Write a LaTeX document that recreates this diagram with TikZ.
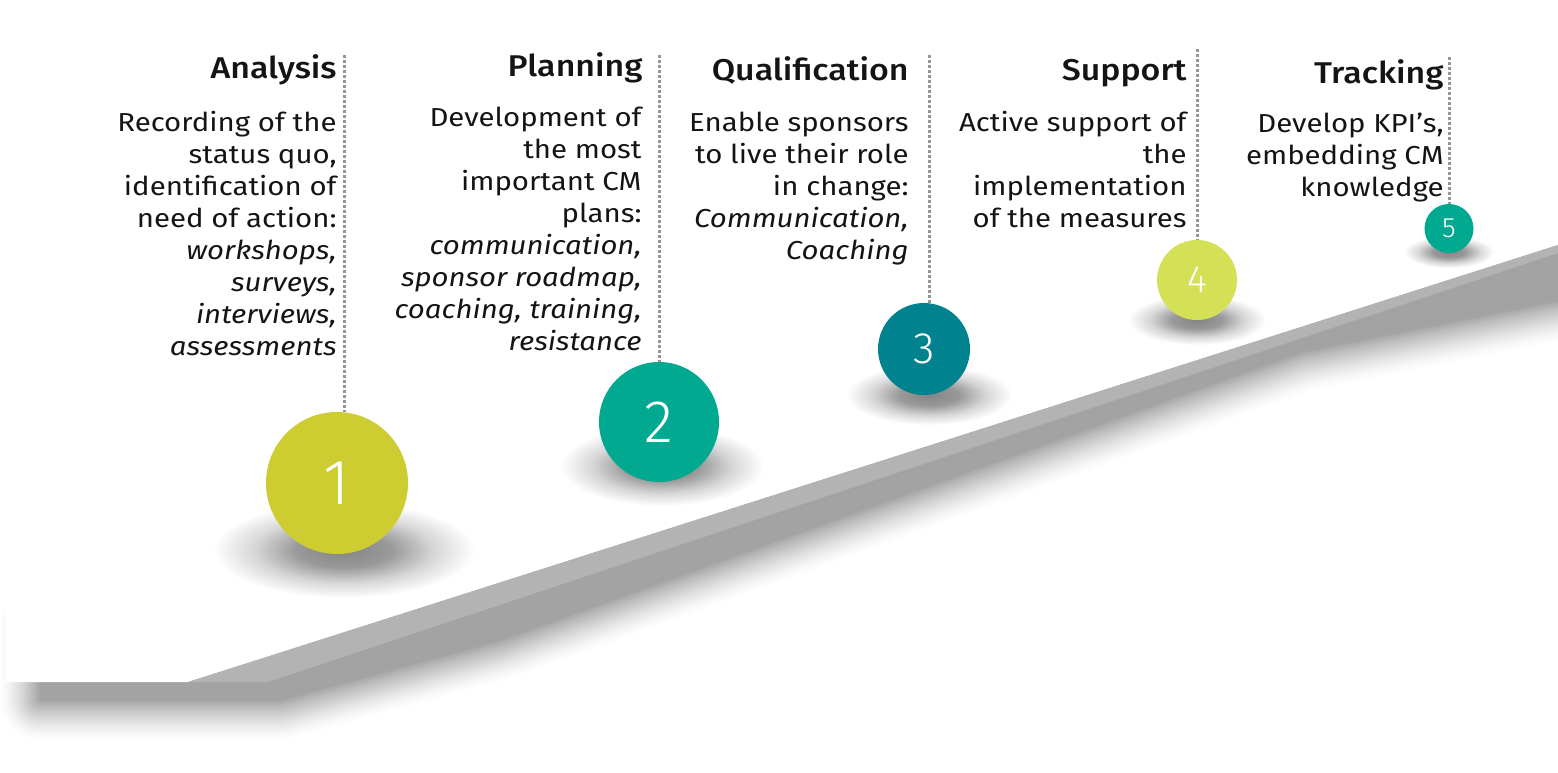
\documentclass[tikz,border=0pt]{standalone}
\usepackage{fontspec}
\IfFontExistsTF{Fira Sans Medium}
  {\setmainfont{Fira Sans}[FakeStretch=1.13, BoldFont={Fira Sans Medium}]}
  {\setmainfont{Fira Sans}[FakeStretch=1.13]}
\IfFontExistsTF{Fira Sans Light}
  {\newfontfamily\numfont{Fira Sans Light}}
  {\newfontfamily\numfont{Fira Sans}}
\definecolor{cA}{RGB}{205,205,50}
\definecolor{cB}{RGB}{0,169,143}
\definecolor{cC}{RGB}{0,131,143}
\definecolor{cD}{RGB}{212,225,87}
\definecolor{stripgray}{RGB}{179,179,179}
\definecolor{dotgray}{RGB}{150,150,150}
\definecolor{txt}{RGB}{20,20,20}
\pgfdeclareradialshading{cshadow}{\pgfpointorigin}{color(0bp)=(black!48); color(9bp)=(black!40); color(17bp)=(black!16); color(25bp)=(white); color(50bp)=(white)}
\tikzset{
  head/.style={font=\fontsize{15}{16}\selectfont\bfseries, text=txt, inner sep=0pt, anchor=base east},
  body/.style={font=\fontsize{13}{16}\selectfont, text=txt, inner sep=0pt, anchor=north east, align=right},
  ball/.style={circle, inner sep=0pt, text=white},
  dotline/.style={dotgray, line width=1.5pt, dash pattern=on 1.5pt off 1pt},
  shadowell/.style={shading=cshadow}
}
\begin{document}
\begin{tikzpicture}[x=0.5pt,y=-0.5pt]
\useasboundingbox (0,0) rectangle (1558,772);
\clip (0,0) rectangle (1558,772);
\fill[white] (0,0) rectangle (1558,772);
% blurred shadow of the slab
\foreach \k in {0,...,24}{
  \pgfmathsetmacro\g{40*(1-\k/24)}
  \pgfmathsetmacro\c{36*((\k+1)/25)^1.4}
  \filldraw[fill=black!\c, draw=black!\c, line width=\g pt, line join=round]
    (40,625) -- (40,700) -- (280,700) -- (500,640) -- (1300,352) -- (1600,292) -- (1600,230) -- cycle;
}
% white slab and its front edge
\fill[white] (6,-10) -- (6,682) -- (188,682) -- (1600,231.6) -- (1600,-10) -- cycle;
\fill[stripgray] (188,682) -- (1600,231.6) -- (1600,239) -- (268,682) -- cycle;
% shadows of the balls
\shade[shadowell] (344,550) ellipse [x radius=131, y radius=48];
\shade[shadowell] (662,466) ellipse [x radius=102, y radius=40];
\shade[shadowell] (929,395) ellipse [x radius=83, y radius=30];
\shade[shadowell] (1197,320) ellipse [x radius=69, y radius=25];
\shade[shadowell] (1449,252) ellipse [x radius=45, y radius=16];
% dotted guide lines
\coordinate (t1) at (344,55);
\coordinate (t2) at (659,55);
\coordinate (t3) at (929,55);
\coordinate (t4) at (1197,49);
\coordinate (t5) at (1449,57);
% balls
\node[ball, fill=cA, minimum size=71pt, font=\numfont\fontsize{32}{32}\selectfont] (c1) at (337,483) {1};
\node[ball, fill=cB, minimum size=60pt, font=\numfont\fontsize{30}{30}\selectfont] (c2) at (659,422) {2};
\node[ball, fill=cC, minimum size=46pt, font=\numfont\fontsize{22}{22}\selectfont] (c3) at (924,349) {3};
\node[ball, fill=cD, minimum size=40pt, font=\numfont\fontsize{19}{19}\selectfont] (c4) at (1197,280) {4};
\node[ball, fill=cB, minimum size=24.5pt, font=\numfont\fontsize{14}{14}\selectfont] (c5) at (1449,228.5) {5};
\draw[dotline] (t1) -- (t1 |- c1.north);
\draw[dotline] (t2) -- (c2.north);
\draw[dotline] (t3) -- (t3 |- c3.north);
\draw[dotline] (t4) -- (c4.north);
\draw[dotline] (t5) -- (c5.north);
% texts
\node[head] (h1) at (337,78) {Analysis};
\node[body] (b1) at (337,108.6) {\strut Recording of the\\ status quo,\\ identification of\\ need of action:\\ \textit{workshops,}\\ \textit{surveys,}\\ \textit{interviews,}\\ \textit{assessments}};
\node[head] (h2) at (643,76) {Planning};
\node[body] (b2) at (642,103.6) {\strut Development of\\ the most\\ important CM\\ plans:\\ \textit{communication,}\\ \textit{sponsor roadmap,}\\ \textit{coaching, training,}\\ \textit{resistance}};
\node[head] (h3) at (909,80) {Qualification};
\node[body] (b3) at (909,108.6) {\strut Enable sponsors\\ to live their role\\ in change:\\ \textit{Communication,}\\ \textit{Coaching}};
\node[head] (h4) at (1187,80) {Support};
\node[body] (b4) at (1187,108.6) {\strut Active support of\\ the\\ implementation\\ of the measures};
\node[head] (h5) at (1444,83) {Tracking};
\node[body] (b5) at (1444,109.6) {\strut Develop KPI’s,\\ embedding CM\\ knowledge};
\end{tikzpicture}
\end{document}
